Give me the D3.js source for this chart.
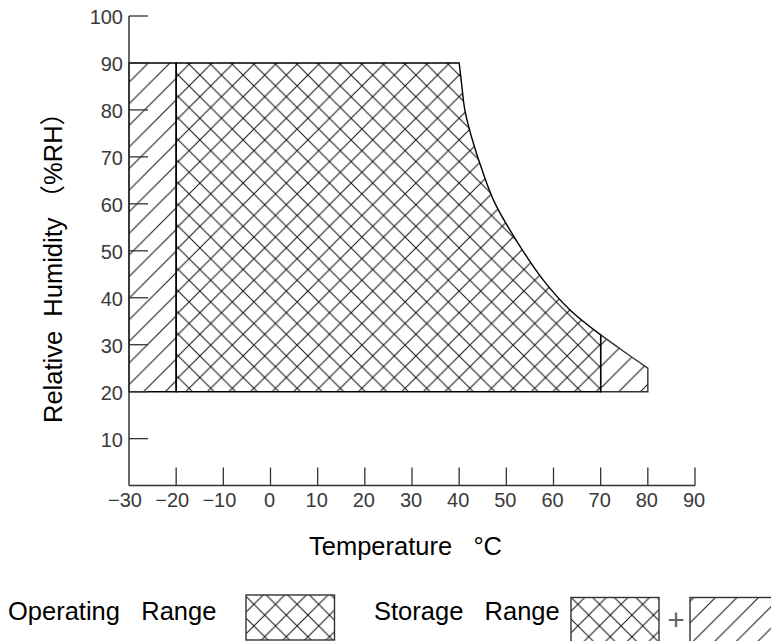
<!DOCTYPE html>
<html>
<head>
<meta charset="utf-8">
<script src="https://cdnjs.cloudflare.com/ajax/libs/d3/7.8.5/d3.min.js"></script>
<style>
  body { margin: 0; background: #fff; }
  text { font-family: "Liberation Sans", Arial, "Noto Sans CJK SC", sans-serif; }
</style>
</head>
<body>
<div id="graph"></div>
<script>
// temperature (°C) and humidity (%RH) ticks
var tempTicks = [-30, -20, -10, 0, 10, 20, 30, 40, 50, 60, 70, 80, 90];
var rhTicks = [10, 20, 30, 40, 50, 60, 70, 80, 90, 100];

// limits of the ranges
var operTempMin = -20, operTempMax = 70;
var storTempMin = -30, storTempMax = 80;
var rhMin = 20, rhMax = 90;

// upper humidity limit above 40 °C
var curveTemp = [40, 40.5, 41.2, 42.6, 45.1, 47.6, 52.5, 57.8, 63.5, 70, 75, 80];
var curveRH   = [90, 85.7, 80, 74.3, 66.5, 60.1, 51.6, 43.8, 37.4, 32.1, 28.5, 25];

var legendItems = ["Operating   Range", "Storage   Range"];

var W = 771, H = 641;

var x = d3.scaleLinear().domain([-30, 90]).range([129, 695]);
var y = d3.scaleLinear().domain([0, 100]).range([485.6, 16]);

var svg = d3.select("#graph").append("svg")
    .attr("width", W)
    .attr("height", H);

svg.append("rect").attr("width", W).attr("height", H).attr("fill", "#fff");

// hatch patterns
var s = 21.6;
var defs = svg.append("defs");
defs.append("pattern")
    .attr("id", "cross")
    .attr("patternUnits", "userSpaceOnUse")
    .attr("x", 178.3).attr("y", 96.7)
    .attr("width", s).attr("height", s)
    .append("path")
    .attr("d", "M0,0L" + s + "," + s + "M" + s + ",0L0," + s +
               "M-2,2L2,-2M" + (s - 2) + "," + (s + 2) + "L" + (s + 2) + "," + (s - 2) +
               "M-2," + (s - 2) + "L2," + (s + 2) + "M" + (s - 2) + ",-2L" + (s + 2) + ",2")
    .attr("stroke", "#111")
    .attr("stroke-width", 1)
    .attr("fill", "none");

defs.append("pattern")
    .attr("id", "diag")
    .attr("patternUnits", "userSpaceOnUse")
    .attr("x", 148.3).attr("y", 63)
    .attr("width", s).attr("height", s)
    .append("path")
    .attr("d", "M0," + s + "L" + s + ",0M-2,2L2,-2M" + (s - 2) + "," + (s + 2) + "L" + (s + 2) + "," + (s - 2))
    .attr("stroke", "#111")
    .attr("stroke-width", 1)
    .attr("fill", "none");

var pts = curveTemp.map(function(t, i) { return [t, curveRH[i]]; });
var line = d3.line()
    .x(function(d) { return x(d[0]); })
    .y(function(d) { return y(d[1]); })
    .curve(d3.curveCatmullRom.alpha(0.5));

var operCurve = pts.filter(function(d) { return d[0] <= operTempMax; });
var storCurve = pts.filter(function(d) { return d[0] >= operTempMax; });

// operating region
var operPath = "M" + x(operTempMin) + "," + y(rhMax) +
    line(operCurve).replace(/^M/, "L") +
    "L" + x(operTempMax) + "," + y(rhMin) +
    "L" + x(operTempMin) + "," + y(rhMin) + "Z";

// storage-only parts
var storLeft = "M" + x(storTempMin) + "," + y(rhMax) +
    "L" + x(operTempMin) + "," + y(rhMax) +
    "L" + x(operTempMin) + "," + y(rhMin) +
    "L" + x(storTempMin) + "," + y(rhMin) + "Z";
var storRight = line(storCurve) +
    "L" + x(storTempMax) + "," + y(rhMin) +
    "L" + x(operTempMax) + "," + y(rhMin) + "Z";

svg.append("path").attr("d", storLeft).attr("fill", "url(#diag)")
    .attr("stroke", "#000").attr("stroke-width", 1.4);
svg.append("path").attr("d", storRight).attr("fill", "url(#diag)")
    .attr("stroke", "#333").attr("stroke-width", 1.4);
svg.append("path").attr("d", operPath).attr("fill", "url(#cross)")
    .attr("stroke", "#000").attr("stroke-width", 1.4);

// axes
var axisColor = "#333";
svg.append("line")
    .attr("x1", x(-30)).attr("x2", x(-30))
    .attr("y1", y(100)).attr("y2", y(0))
    .attr("stroke", axisColor).attr("stroke-width", 1.5);
svg.append("line")
    .attr("x1", x(-30)).attr("x2", x(90))
    .attr("y1", y(0)).attr("y2", y(0))
    .attr("stroke", axisColor).attr("stroke-width", 1.5);

svg.selectAll("line.ytick")
    .data(rhTicks)
    .enter().append("line")
    .attr("class", "ytick")
    .attr("x1", x(-30)).attr("x2", x(-30) + 19)
    .attr("y1", function(d) { return y(d); })
    .attr("y2", function(d) { return y(d); })
    .attr("stroke", axisColor).attr("stroke-width", 1.3);

svg.selectAll("line.xtick")
    .data(tempTicks.slice(1))
    .enter().append("line")
    .attr("class", "xtick")
    .attr("x1", function(d) { return x(d); })
    .attr("x2", function(d) { return x(d); })
    .attr("y1", y(0)).attr("y2", y(0) - 18)
    .attr("stroke", axisColor).attr("stroke-width", 1.3);

svg.selectAll("text.ylab")
    .data(rhTicks)
    .enter().append("text")
    .attr("class", "ylab")
    .attr("x", x(-30) - 6)
    .attr("y", function(d) { return y(d) + 8; })
    .attr("text-anchor", "end")
    .style("font-size", "20px")
    .style("fill", "#3a3a3a")
    .text(function(d) { return d; });

svg.selectAll("text.xlab")
    .data(tempTicks)
    .enter().append("text")
    .attr("class", "xlab")
    .attr("x", function(d) { return d < 0 ? x(d) + 13 : x(d) - 1; })
    .attr("y", y(0) + 21)
    .attr("text-anchor", function(d) { return d < 0 ? "end" : "middle"; })
    .style("font-size", "20px")
    .style("fill", "#3a3a3a")
    .text(function(d) { return d < 0 ? "\u2212" + Math.abs(d) : d; });

// axis titles
svg.append("text")
    .attr("x", 309).attr("y", 555)
    .style("font-size", "25.5px")
    .style("white-space", "pre")
    .text("Temperature   °C");

svg.append("text")
    .attr("transform", "translate(62,423) rotate(-90)")
    .style("font-size", "25.5px")
    .style("white-space", "pre")
    .text("Relative  Humidity \uFF08%RH\uFF09");

// legend
svg.append("text")
    .attr("x", 8).attr("y", 620)
    .style("font-size", "25.5px")
    .style("white-space", "pre")
    .text(legendItems[0]);
svg.append("rect")
    .attr("x", 246).attr("y", 595).attr("width", 88.5).attr("height", 45)
    .attr("fill", "url(#cross)").attr("stroke", "#333").attr("stroke-width", 1.4);

svg.append("text")
    .attr("x", 374).attr("y", 620)
    .style("font-size", "25.5px")
    .style("white-space", "pre")
    .text(legendItems[1]);
svg.append("rect")
    .attr("x", 571).attr("y", 597.5).attr("width", 88).attr("height", 45)
    .attr("fill", "url(#cross)").attr("stroke", "#333").attr("stroke-width", 1.4);
svg.append("text")
    .attr("x", 676).attr("y", 630)
    .attr("text-anchor", "middle")
    .style("font-size", "30px")
    .style("fill", "#666")
    .text("+");
svg.append("rect")
    .attr("x", 690).attr("y", 597.5).attr("width", 100).attr("height", 45)
    .attr("fill", "url(#diag)").attr("stroke", "#333").attr("stroke-width", 1.4);
</script>
</body>
</html>
